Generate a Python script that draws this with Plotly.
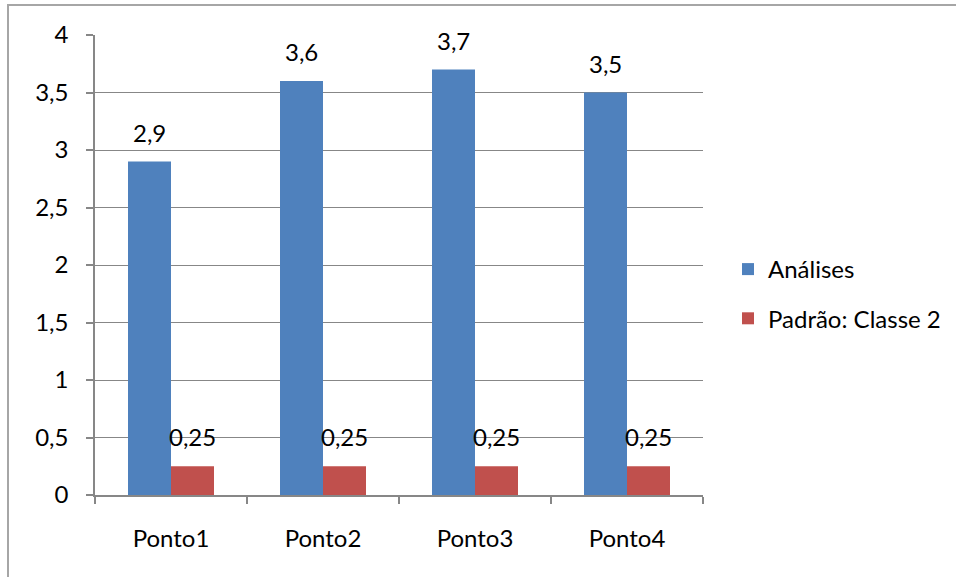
import plotly.graph_objects as go

categories = ["Ponto1", "Ponto2", "Ponto3", "Ponto4"]
analises = [2.9, 3.6, 3.7, 3.5]
padrao = [0.25, 0.25, 0.25, 0.25]
series_names = ["Análises", "Padrão: Classe 2"]
y_ticks = [0, 0.5, 1, 1.5, 2, 2.5, 3, 3.5, 4]

BLUE = "#4F81BD"
RED = "#C0504D"
GRID = "#878787"
FONT = "Lato, Open Sans, sans-serif"
FS = 24


def fmt(v):
    return ("%g" % v).replace(".", ",")


W, H = 956, 577
L, R, T, B = 95, 253, 35, 82
pw, ph = W - L - R, H - T - B
BAR_PX = 43  # width of one bar in pixels (two bars per category)

fig = go.Figure()
fig.add_trace(go.Bar(
    x=categories, y=analises, name=series_names[0], marker_color=BLUE,
    marker_line_width=0, legendgroup="a",
))
fig.add_trace(go.Bar(
    x=categories, y=padrao, name=series_names[1], marker_color=RED,
    marker_line_width=0, legendgroup="b",
))

# value labels above each bar
for vals, dx in ((analises, -BAR_PX / 2), (padrao, BAR_PX / 2)):
    for c, v in zip(categories, vals):
        fig.add_annotation(
            x=c, y=v, text=fmt(v), showarrow=False, xref="x", yref="y",
            xanchor="center", yanchor="bottom", xshift=dx, yshift=13,
            font=dict(size=FS, color="#000", family=FONT),
        )

# outer chart frame (left and top edges visible, rest runs off the page)
fig.add_shape(
    type="rect", xref="paper", yref="paper",
    x0=(8 - L) / pw, x1=(W + 10 - L) / pw,
    y0=(H - B - (H + 10)) / ph, y1=(H - B - 5) / ph,
    line=dict(color="#A6A6A6", width=2), layer="below",
)

fig.update_layout(
    width=W, height=H,
    margin=dict(l=L, r=R, t=T, b=B, autoexpand=False),
    paper_bgcolor="white", plot_bgcolor="white",
    barmode="group", bargap=1 - 2 * BAR_PX / (pw / 4), bargroupgap=0,
    separators=",.",
    font=dict(family=FONT, size=FS, color="#000"),
    showlegend=True,
    legend=dict(
        x=(728 - L) / pw, xanchor="left", y=(H - B - 294) / ph,
        yanchor="middle", font=dict(size=FS), tracegroupgap=15,
        bgcolor="rgba(0,0,0,0)", itemwidth=30,
    ),
    xaxis=dict(
        type="category", showline=True, linecolor=GRID, linewidth=1.5,
        ticks="outside", tickson="boundaries", ticklen=7, tickcolor=GRID,
        tickwidth=1.5, ticklabelstandoff=21, showgrid=False, zeroline=False,
    ),
    yaxis=dict(
        range=[0, 4], tickvals=y_ticks, showline=True, linecolor=GRID,
        linewidth=1.5, ticks="outside", ticklen=7, tickcolor=GRID,
        tickwidth=1.5, showgrid=True, gridcolor=GRID, gridwidth=1.2,
        zeroline=False, ticklabelstandoff=13,
    ),
)

fig.write_html("out.html")
